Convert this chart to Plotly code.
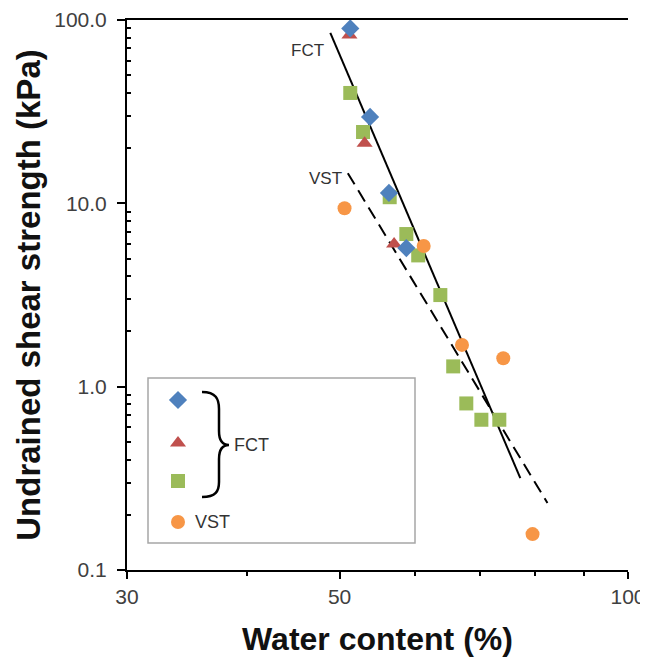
import plotly.graph_objects as go

# water content (%) / undrained shear strength (kPa)
fct_diamond_w = [51.3, 53.8, 56.3, 58.7]
fct_diamond_su = [90.0, 29.6, 11.4, 5.7]

fct_triangle_w = [51.2, 53.1, 57.0]
fct_triangle_su = [82.8, 21.3, 6.0]

fct_square_w = [51.3, 52.9, 56.4, 58.7, 60.4, 63.7, 65.7, 67.8, 70.3, 73.4]
fct_square_su = [40.0, 24.5, 10.8, 6.8, 5.2, 3.16, 1.29, 0.81, 0.66, 0.66]

vst_w = [50.6, 61.2, 67.1, 74.1, 79.5]
vst_su = [9.4, 5.85, 1.69, 1.43, 0.157]

fct_fit_w = [48.9, 77.2]
fct_fit_su = [85.0, 0.317]
vst_fit_w = [51.0, 82.4]
vst_fit_su = [14.6, 0.232]

x_ticks = [30, 50, 100]
x_minor = [40, 60, 70, 80, 90]
y_ticks = [0.1, 1, 10, 100]
y_labels = ["0.1", "1.0", "10.0", "100.0"]
y_minor = [m * d for d in (0.1, 1, 10) for m in range(2, 10)]

BLUE = "#4F81BD"
RED = "#C0504D"
GREEN = "#9BBB59"
ORANGE = "#F79646"
FONT = "Liberation Sans, Arial, sans-serif"

fig = go.Figure()

fig.add_trace(go.Scatter(x=fct_fit_w, y=fct_fit_su, mode="lines",
                         line=dict(color="black", width=2)))
fig.add_trace(go.Scatter(x=vst_fit_w, y=vst_fit_su, mode="lines",
                         line=dict(color="black", width=2, dash="13px,7px")))

fig.add_trace(go.Scatter(x=fct_square_w, y=fct_square_su, mode="markers",
                         marker=dict(symbol="square", size=14, color=GREEN)))
fig.add_trace(go.Scatter(x=vst_w, y=vst_su, mode="markers",
                         marker=dict(symbol="circle", size=14, color=ORANGE)))
fig.add_trace(go.Scatter(x=fct_triangle_w, y=fct_triangle_su, mode="markers",
                         marker=dict(symbol="triangle-up", size=14, color=RED)))
fig.add_trace(go.Scatter(x=fct_diamond_w, y=fct_diamond_su, mode="markers",
                         marker=dict(symbol="diamond", size=14, color=BLUE)))

# hand-made legend on a pixel overlay (x2/y2)
leg_symbols = ["diamond", "triangle-up", "square", "circle"]
leg_colors = [BLUE, RED, GREEN, ORANGE]
leg_y = [400, 443, 481, 522]
fig.add_trace(go.Scatter(x=[178] * 4, y=leg_y, mode="markers", xaxis="x2", yaxis="y2",
                         marker=dict(symbol=leg_symbols, size=14, color=leg_colors)))

fig.add_shape(type="rect", xref="x2", yref="y2", x0=148, x1=415, y0=378, y1=543,
              line=dict(color="#A6A6A6", width=1.5), layer="below")
fig.add_shape(type="path", xref="x2", yref="y2",
              path="M 202,392 C 216,392 219,399 219,409 L 219,431 C 219,440 222,445 229,445 "
                   "C 222,445 219,450 219,459 L 219,482 C 219,491 216,497 202,497",
              line=dict(color="black", width=2.5))

fig.add_annotation(x=232, y=445, xref="x2", yref="y2", text="FCT", showarrow=False,
                   xanchor="left", font=dict(size=18, color="#333333", family=FONT))
fig.add_annotation(x=193, y=522, xref="x2", yref="y2", text="VST", showarrow=False,
                   xanchor="left", font=dict(size=18, color="#333333", family=FONT))
fig.add_annotation(x=326, y=50, xref="x2", yref="y2", text="FCT", showarrow=False,
                   xanchor="right", font=dict(size=17, color="#333333", family=FONT))
fig.add_annotation(x=344, y=178, xref="x2", yref="y2", text="VST", showarrow=False,
                   xanchor="right", font=dict(size=17, color="#333333", family=FONT))

# page body adds an 8px offset, so the figure is 640x654 and margins are shifted
fig.update_layout(
    width=640,
    height=654,
    margin=dict(l=119, r=20, t=12, b=92),
    paper_bgcolor="white",
    plot_bgcolor="white",
    showlegend=False,
    font=dict(family=FONT, color="#404040"),
    xaxis=dict(
        type="log", range=[1.4771, 2.0], automargin=False,
        tickvals=x_ticks, ticktext=[str(v) for v in x_ticks],
        ticks="outside", ticklen=7, tickwidth=2, tickcolor="black",
        minor=dict(tickvals=x_minor, ticks="outside", ticklen=4, tickwidth=1.5, tickcolor="black"),
        showline=True, linecolor="black", linewidth=2, mirror=True,
        showgrid=False, zeroline=False,
        tickfont=dict(size=21, color="#404040"),
        title=dict(text="<b>Water content (%)</b>", standoff=20,
                   font=dict(size=32, color="#111111")),
    ),
    yaxis=dict(
        type="log", range=[-1, 2], automargin=False,
        tickvals=y_ticks, ticktext=y_labels,
        ticks="outside", ticklen=8, tickwidth=2, tickcolor="black",
        minor=dict(tickvals=y_minor, ticks="inside", ticklen=4, tickwidth=1.5, tickcolor="black"),
        showline=True, linecolor="black", linewidth=2,
        showgrid=False, zeroline=False,
        tickfont=dict(size=21, color="#404040"),
        ticklabelstandoff=6,
        title=dict(text="<b>Undrained shear strength (kPa)</b>", standoff=4,
                   font=dict(size=33, color="#111111")),
    ),
    xaxis2=dict(overlaying="x", range=[127, 628], visible=False, fixedrange=True),
    yaxis2=dict(overlaying="y", range=[570, 20], visible=False, fixedrange=True),
)

fig.write_html("out.html")
